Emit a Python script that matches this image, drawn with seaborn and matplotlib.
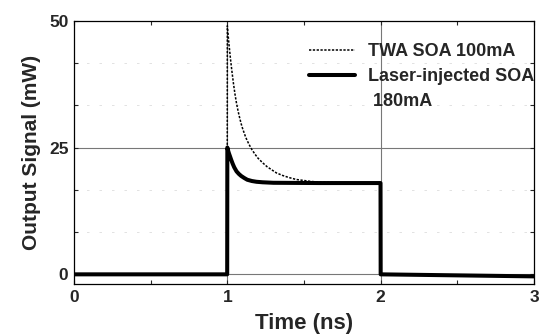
import matplotlib
matplotlib.use("Agg")
import matplotlib.pyplot as plt
import pandas as pd
import seaborn as sns
from matplotlib.lines import Line2D
from matplotlib.ticker import MultipleLocator

# Values
twa_time = [0.0, 0.999, 1.0, 1.005, 1.01, 1.015, 1.02, 1.03, 1.04, 1.05, 1.06, 1.07,
            1.08, 1.09, 1.10, 1.12, 1.14, 1.16, 1.18, 1.20, 1.23, 1.26, 1.29, 1.32,
            1.36, 1.40, 1.45, 1.50, 1.55, 1.60, 1.70, 1.80, 1.90, 1.999, 2.0, 3.0]
twa_signal = [0.0, 0.0, 49.0, 47.2, 45.6, 44.1, 42.6, 40.0, 37.6, 35.5, 33.7, 32.2,
              30.9, 29.7, 28.7, 27.0, 25.7, 24.6, 23.7, 22.9, 22.0, 21.2, 20.6, 20.0,
              19.5, 19.1, 18.7, 18.5, 18.3, 18.2, 18.1, 18.05, 18.0, 18.0, 0.0, -0.4]

inj_time = [0.0, 0.999, 1.0, 1.005, 1.01, 1.017, 1.025, 1.035, 1.045, 1.06, 1.075,
            1.09, 1.11, 1.13, 1.16, 1.19, 1.23, 1.3, 1.6, 1.999, 2.0, 2.5, 3.0]
inj_signal = [0.0, 0.0, 25.0, 24.4, 23.9, 23.3, 22.6, 21.8, 21.1, 20.3, 19.8,
              19.4, 19.0, 18.65, 18.4, 18.25, 18.15, 18.05, 18.0, 18.0, 0.0, -0.2, -0.4]

sns.set_style("ticks")
plt.rcParams['font.family'] = ['Liberation Sans', 'DejaVu Sans']
plt.rcParams['font.weight'] = 'bold'

twa = pd.DataFrame({"t": twa_time, "p": twa_signal})
inj = pd.DataFrame({"t": inj_time, "p": inj_signal})

fig = plt.figure(figsize=(5.45, 3.36), dpi=100)
ax = fig.add_axes([0.1358, 0.1533, 0.844, 0.785])

# faint minor grid like the scanned original
for y in [25 / 3, 50 / 3, 100 / 3, 125 / 3]:
    ax.axhline(y, color='#dddddd', lw=0.6, ls=(0, (3, 12)), zorder=0)
for y in [0, 25]:
    ax.axhline(y, color='#777777', lw=0.8, zorder=0)
for x in [1, 2]:
    ax.axvline(x, color='#777777', lw=0.8, zorder=0)

sns.lineplot(data=twa, x="t", y="p", ax=ax, color='black', lw=1.1,
             linestyle=(0, (1.5, 1)), label="TWA SOA 100mA", sort=False)
sns.lineplot(data=inj, x="t", y="p", ax=ax, color='black', lw=2.9,
             label="Laser-injected SOA", sort=False)

ax.set_xlim(0, 3)
ax.set_ylim(-2, 50)
ax.set_xticks([0, 1, 2, 3])
ax.set_yticks([0, 25, 50])
ax.xaxis.set_minor_locator(MultipleLocator(0.5))
ax.yaxis.set_minor_locator(MultipleLocator(25 / 3))
ax.tick_params(which='both', direction='in', top=True, right=True, length=3, width=0.8)
ax.tick_params(which='major', labelsize=12.5, pad=4)
for lab in ax.get_xticklabels() + ax.get_yticklabels():
    lab.set_fontweight('bold')
for s in ax.spines.values():
    s.set_linewidth(0.9)
    s.set_color('black')

ax.set_xlabel("Time (ns)", fontsize=16, fontweight='bold', labelpad=6)
ax.set_ylabel("Output Signal (mW)", fontsize=15, fontweight='bold', labelpad=6)

# second line of the solid-curve label sits under the first, without a handle
handles, labels = ax.get_legend_handles_labels()
handles.append(Line2D([], [], color='none'))
labels.append(" 180mA")
leg = ax.legend(handles, labels, loc='upper left', bbox_to_anchor=(309 / 545, 1 - 43 / 336),
                bbox_transform=fig.transFigure, frameon=False, fontsize=13,
                handlelength=2.55, handletextpad=0.72, borderpad=0,
                borderaxespad=0, labelspacing=0.45)
for t in leg.get_texts():
    t.set_fontweight('bold')

fig.savefig("out.png", dpi=100)
